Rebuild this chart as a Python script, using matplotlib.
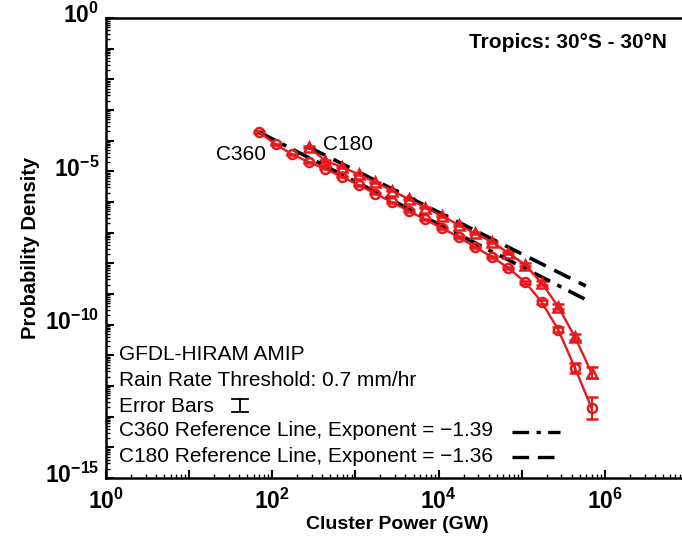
import numpy as np
import matplotlib.pyplot as plt
import matplotlib.transforms as mtransforms
from matplotlib.ticker import LogLocator, FuncFormatter, NullFormatter

plt.rcParams['font.family'] = ['Liberation Sans', 'DejaVu Sans']
plt.rcParams['mathtext.fontset'] = 'custom'
plt.rcParams['mathtext.rm'] = 'Liberation Sans:bold'
plt.rcParams['mathtext.bf'] = 'Liberation Sans:bold'

RED = '#e8191c'

# C360: log10 cluster power (GW) and log10 probability density
c360_logx = [1.84, 2.04, 2.24, 2.44, 2.64, 2.84, 3.04, 3.24, 3.44, 3.64, 3.84,
             4.04, 4.24, 4.44, 4.64, 4.84, 5.04, 5.24, 5.44, 5.64, 5.84]
c360_logp = [-3.72, -4.12, -4.45, -4.70, -4.92, -5.18, -5.45, -5.73, -6.01, -6.29, -6.57,
             -6.85, -7.14, -7.47, -7.79, -8.15, -8.61, -9.26, -10.17, -11.41, -12.72]
c360_err = [0.02, 0.02, 0.02, 0.02, 0.02, 0.02, 0.02, 0.02, 0.02, 0.02, 0.02,
            0.02, 0.03, 0.03, 0.03, 0.04, 0.05, 0.06, 0.08, 0.15, 0.35]

# C180
c180_logx = [2.44, 2.64, 2.84, 3.04, 3.24, 3.44, 3.64, 3.84, 4.04,
             4.24, 4.44, 4.64, 4.84, 5.04, 5.24, 5.44, 5.64, 5.84]
c180_logp = [-4.21, -4.66, -4.86, -5.10, -5.36, -5.63, -5.90, -6.18, -6.46,
             -6.74, -7.02, -7.30, -7.66, -8.05, -8.64, -9.42, -10.40, -11.57]
c180_err = [0.02, 0.02, 0.02, 0.02, 0.02, 0.02, 0.02, 0.02, 0.02,
            0.03, 0.03, 0.03, 0.04, 0.05, 0.06, 0.08, 0.10, 0.18]

# reference power laws (start at first point of each run)
ref360_exp = -1.39
ref180_exp = -1.36
ref_end = 5.9e5

fig = plt.figure(figsize=(6.82, 5.42), dpi=100)
ax = fig.add_axes([106/682, 64/542, 582/682, 460/542])

def draw(logx, logp, err, marker):
    p = 10**np.array(logx)
    y = 10**np.array(logp)
    e = np.array(err)
    yerr = [y - y*10**(-e), y*10**e - y]
    ax.errorbar(p, y, yerr=yerr, color=RED, lw=1.7, marker=marker, ms=6.5,
                mfc='none', mec=RED, mew=1.8, capsize=4, elinewidth=1.5, capthick=1.5)

draw(c360_logx, c360_logp, c360_err, 'o')
draw(c180_logx, c180_logp, c180_err, '^')

for logx, logp, expo, ls in [(c360_logx, c360_logp, ref360_exp, (0, (5, 2.2, 1.3, 2.2))),
                             (c180_logx, c180_logp, ref180_exp, (0, (5, 2.6)))]:
    x0 = 10**logx[0]
    xr = np.array([x0, ref_end])
    yr = 10**logp[0] * (xr/x0)**expo
    ax.plot(xr, yr, color='black', lw=2.6, ls=ls)

ax.set_xscale('log')
ax.set_yscale('log')
ax.set_xlim(1, 1e7)
ax.set_ylim(1e-15, 1)

ax.xaxis.set_major_locator(LogLocator(base=10, numticks=20))
ax.yaxis.set_major_locator(LogLocator(base=10, numticks=20))
ax.xaxis.set_minor_locator(LogLocator(base=10, subs=np.arange(2, 10), numticks=20))
ax.yaxis.set_minor_locator(LogLocator(base=10, subs=np.arange(2, 10), numticks=20))

def fmt_x(v, pos):
    e = int(round(np.log10(v)))
    return r'$\mathbf{10^{%d}}$' % e if e % 2 == 0 and e < 7 else ''

def fmt_y(v, pos):
    e = int(round(np.log10(v)))
    return r'$\mathbf{10^{%d}}$' % e if e % 5 == 0 else ''

ax.xaxis.set_major_formatter(FuncFormatter(fmt_x))
ax.yaxis.set_major_formatter(FuncFormatter(fmt_y))
ax.xaxis.set_minor_formatter(NullFormatter())
ax.yaxis.set_minor_formatter(NullFormatter())
ax.tick_params(which='major', direction='in', length=6, width=1.5, labelsize=16.5, pad=5)
ax.tick_params(axis='x', which='major', pad=8)
ax.tick_params(which='minor', direction='in', length=3, width=1.0)
ax.tick_params(top=False, right=False)

# raise the y tick labels a little, as in the reference
shift = mtransforms.ScaledTranslation(0, 5/100, fig.dpi_scale_trans)
for lab in ax.yaxis.get_majorticklabels():
    lab.set_transform(lab.get_transform() + shift)

ax.spines['right'].set_visible(False)
for s in ['left', 'bottom', 'top']:
    ax.spines[s].set_linewidth(1.8)

ax.set_xlabel('Cluster Power (GW)', fontsize=14, fontweight='bold', labelpad=1)
ax.set_ylabel('Probability Density', fontsize=14.5, fontweight='bold', labelpad=3)

W = 582

def axc(px, py):
    return (px - 106)/W, (478 - py)/460

ax.text(*axc(667, 43), 'Tropics: 30°S - 30°N', transform=ax.transAxes,
        ha='right', va='center', fontsize=15, fontweight='bold')
ax.text(*axc(216, 154), 'C360', transform=ax.transAxes, ha='left', va='center', fontsize=15)
ax.text(*axc(323, 144), 'C180', transform=ax.transAxes, ha='left', va='center', fontsize=15)

lines = ['GFDL-HIRAM AMIP', 'Rain Rate Threshold: 0.7 mm/hr', 'Error Bars',
         'C360 Reference Line, Exponent = \u22121.39', 'C180 Reference Line, Exponent = \u22121.36']
ys = [354, 380, 406, 431, 456]
for t, y in zip(lines, ys):
    ax.text(*axc(119, y), t, transform=ax.transAxes, ha='left', va='center', fontsize=15)

# legend glyphs
x0, y0 = axc(240, 399)
x1, y1 = axc(240, 412)
ax.plot([x0, x0], [y0, y1], color='black', lw=1.3, transform=ax.transAxes)
for yy in (y0, y1):
    ax.plot([x0 - 0.014, x0 + 0.014], [yy, yy], color='black', lw=1.3, transform=ax.transAxes)
lx0, ly = axc(512, 432)
lx1, _ = axc(560, 432)
ax.plot([lx0, lx1], [ly, ly], color='black', lw=2.4, ls=(0, (5, 2.2, 1.3, 2.2)), transform=ax.transAxes)
lx0, ly = axc(512, 457)
lx1, _ = axc(556, 457)
ax.plot([lx0, lx1], [ly, ly], color='black', lw=2.4, ls=(0, (5, 2.6)), transform=ax.transAxes)

fig.savefig('out.png', dpi=100)
